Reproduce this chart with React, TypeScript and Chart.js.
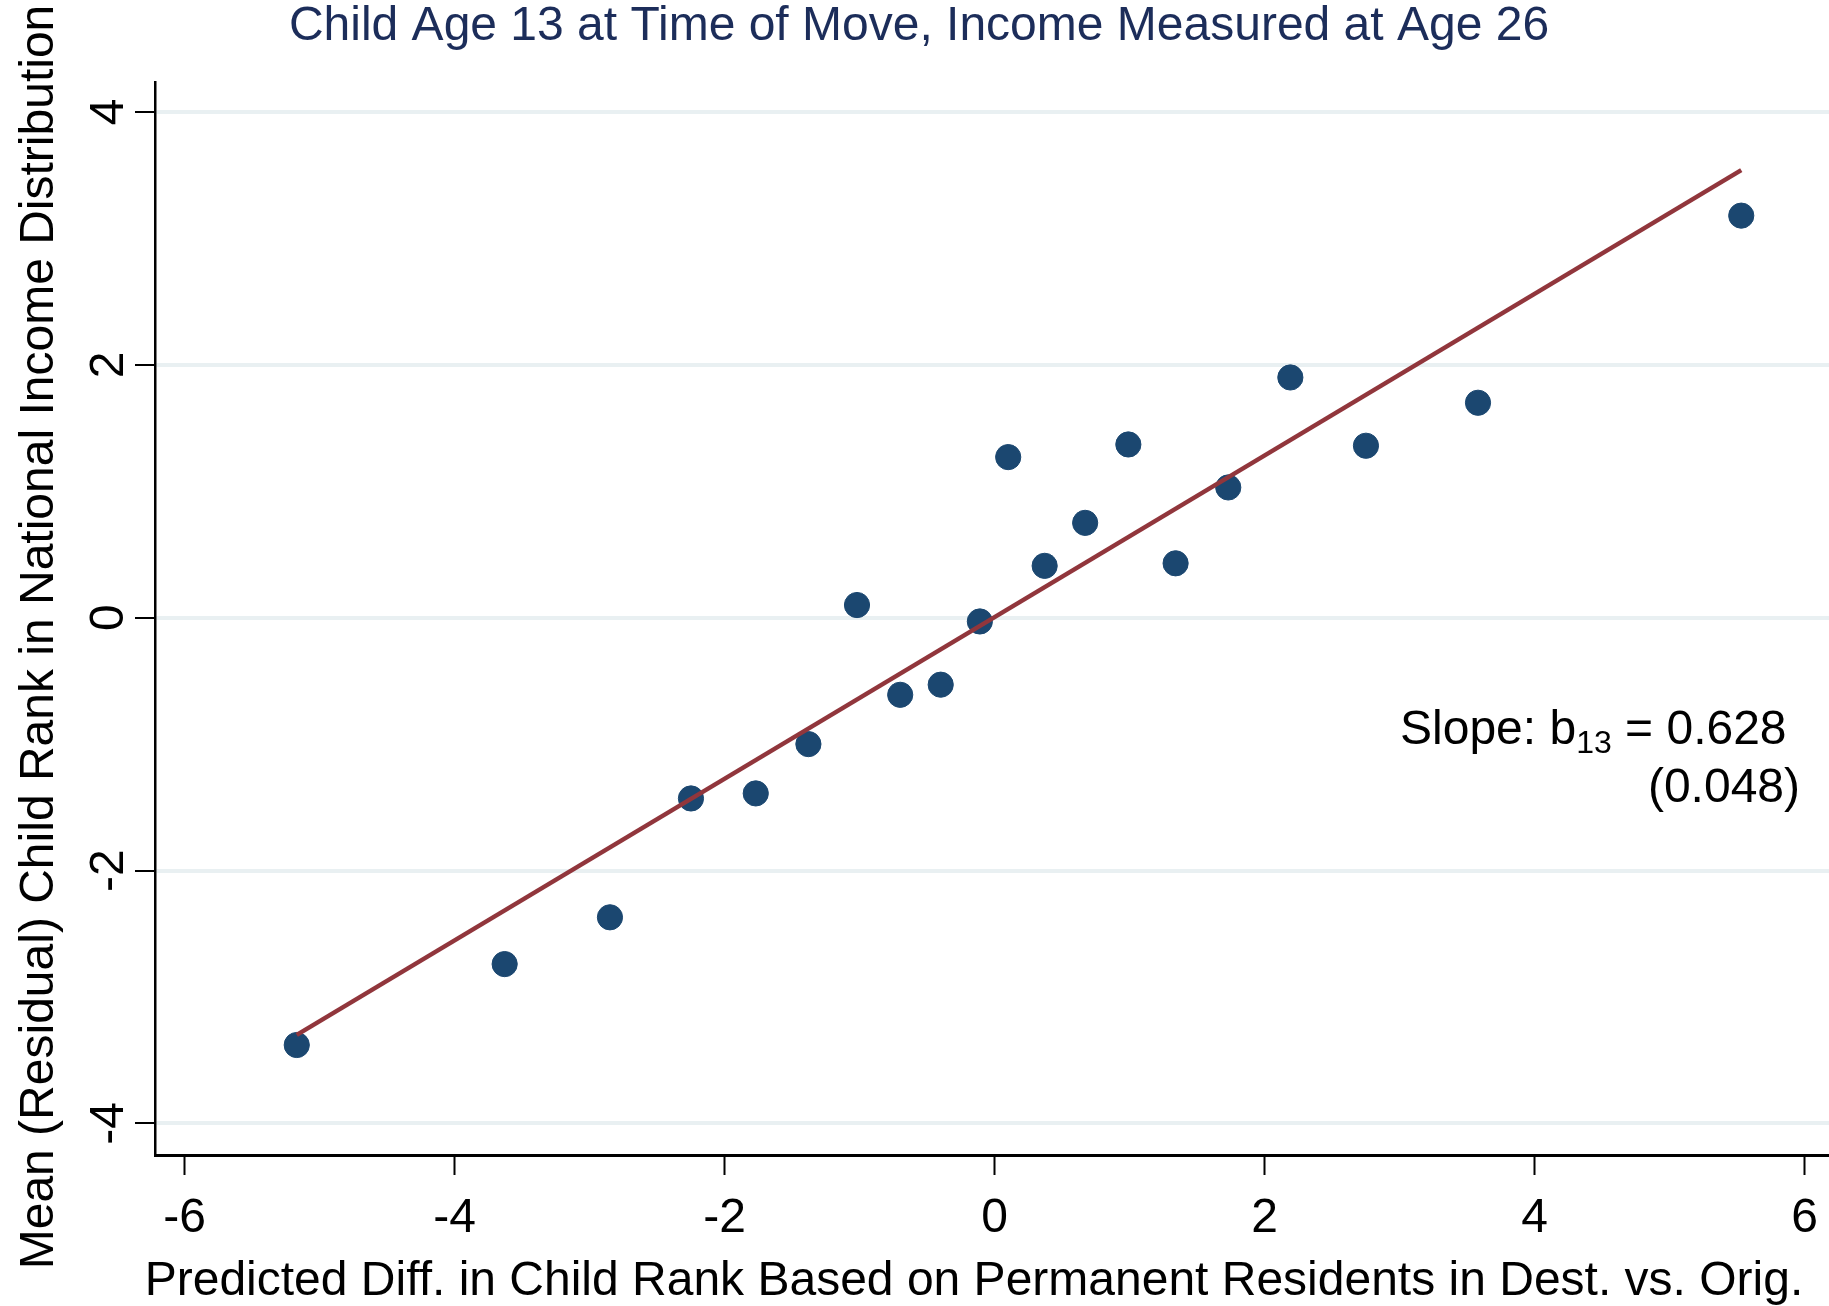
import React, { useEffect, useRef } from "react";
import { Chart, registerables } from "chart.js";

Chart.register(...registerables);

// ---- data ----
const pointX = [-5.17, -3.63, -2.85, -2.25, -1.77, -1.38, -1.02, -0.70, -0.40, -0.11, 0.10, 0.37, 0.67, 0.99, 1.34, 1.73, 2.19, 2.75, 3.58, 5.53];
const pointY = [-3.38, -2.74, -2.37, -1.43, -1.39, -1.00, 0.10, -0.61, -0.53, -0.03, 1.27, 0.41, 0.75, 1.37, 0.43, 1.03, 1.90, 1.36, 1.70, 3.18];
const fitX = [-5.17, 5.53];
const fitY = [-3.30, 3.54];
const xTickValues = [-6, -4, -2, 0, 2, 4, 6];
const yTickValues = [-4, -2, 0, 2, 4];

const chartTitle = "Child Age 13 at Time of Move, Income Measured at Age 26";
const xAxisTitle = "Predicted Diff. in Child Rank Based on Permanent Residents in Dest. vs. Orig.";
const yAxisTitle = "Mean (Residual) Child Rank in National Income Distribution";
const slopeLabel = "Slope: b";
const slopeSub = "13";
const slopeValue = " = 0.628";
const slopeSE = "(0.048)";

const FONT = '"Liberation Sans", Arial, Helvetica, sans-serif';

export default function App() {
  const ref = useRef<HTMLCanvasElement>(null);

  useEffect(() => {
    document.body.style.margin = "0";
    const canvas = ref.current as HTMLCanvasElement;

    const textPlugin = {
      id: "texts",
      afterDraw(chart: any) {
        const ctx = chart.ctx as CanvasRenderingContext2D;
        const xs = chart.scales.x;
        const ys = chart.scales.y;
        ctx.save();
        ctx.textBaseline = "alphabetic";

        // title
        ctx.fillStyle = "#1c2d5a";
        ctx.font = `48px ${FONT}`;
        ctx.textAlign = "center";
        ctx.fillText(chartTitle, 919, 40);

        ctx.fillStyle = "#000";
        // x tick labels
        ctx.textAlign = "center";
        for (const t of xs.ticks) {
          ctx.fillText(String(t.value), xs.getPixelForValue(t.value), 1232);
        }
        // y tick labels (rotated)
        for (const t of ys.ticks) {
          ctx.save();
          ctx.translate(123, ys.getPixelForValue(t.value));
          ctx.rotate(-Math.PI / 2);
          ctx.textAlign = "center";
          ctx.fillText(String(t.value), 0, 0);
          ctx.restore();
        }
        // x axis title
        ctx.textAlign = "center";
        ctx.fillText(xAxisTitle, 974, 1295);
        // y axis title
        ctx.save();
        ctx.translate(53, 637);
        ctx.rotate(-Math.PI / 2);
        ctx.textAlign = "center";
        ctx.fillText(yAxisTitle, 0, 0);
        ctx.restore();

        // slope annotation
        ctx.textAlign = "left";
        let x = 1400;
        const base = 744;
        ctx.font = `48px ${FONT}`;
        ctx.fillText(slopeLabel, x, base);
        x += ctx.measureText(slopeLabel).width;
        ctx.font = `32px ${FONT}`;
        ctx.fillText(slopeSub, x, base + 9);
        x += ctx.measureText(slopeSub).width;
        ctx.font = `48px ${FONT}`;
        ctx.fillText(slopeValue, x, base);
        ctx.textAlign = "right";
        ctx.fillText(slopeSE, 1800, 802);

        ctx.restore();
      },
    };

    const chart = new Chart(canvas, {
      type: "scatter",
      data: {
        datasets: [
          {
            type: "line",
            data: fitX.map((v, i) => ({ x: v, y: fitY[i] })),
            borderColor: "#91363c",
            borderWidth: 4.5,
            pointRadius: 0,
            showLine: true,
            fill: false,
            order: 0,
          } as any,
          {
            type: "scatter",
            data: pointX.map((v, i) => ({ x: v, y: pointY[i] })),
            backgroundColor: "#1b4770",
            borderColor: "#1b4770",
            borderWidth: 1,
            pointRadius: 12.6,
            order: 1,
          } as any,
        ],
      },
      options: {
        animation: false,
        responsive: false,
        events: [],
        layout: { autoPadding: false, padding: { top: 82, right: 0, bottom: 0, left: 0 } },
        plugins: {
          legend: { display: false },
          tooltip: { enabled: false },
          title: { display: false },
        },
        scales: {
          x: {
            type: "linear",
            min: -6.22,
            max: 6.18,
            afterBuildTicks: (s: any) => {
              s.ticks = xTickValues.map((v) => ({ value: v }));
            },
            afterFit: (s: any) => {
              s.height = 151;
            },
            ticks: { display: false },
            grid: {
              drawOnChartArea: false,
              drawTicks: true,
              tickLength: 20,
              tickColor: "#000",
              tickWidth: 2,
            },
            border: { display: true, color: "#000", width: 3 },
          },
          y: {
            type: "linear",
            min: -4.25,
            max: 4.237,
            afterBuildTicks: (s: any) => {
              s.ticks = yTickValues.map((v) => ({ value: v }));
            },
            afterFit: (s: any) => {
              s.width = 155;
            },
            ticks: { display: false },
            grid: {
              drawOnChartArea: true,
              drawTicks: true,
              tickLength: 20,
              color: "#e9f0f2",
              lineWidth: 4,
              tickColor: "#000",
              tickWidth: 2,
            },
            border: { display: true, color: "#000", width: 2.5 },
          },
        },
      },
      plugins: [textPlugin],
    } as any);

    return () => chart.destroy();
  }, []);

  return (
    <div style={{ width: 1829, height: 1306, background: "#fff" }}>
      <canvas ref={ref} width={1829} height={1306} style={{ display: "block" }} />
    </div>
  );
}
